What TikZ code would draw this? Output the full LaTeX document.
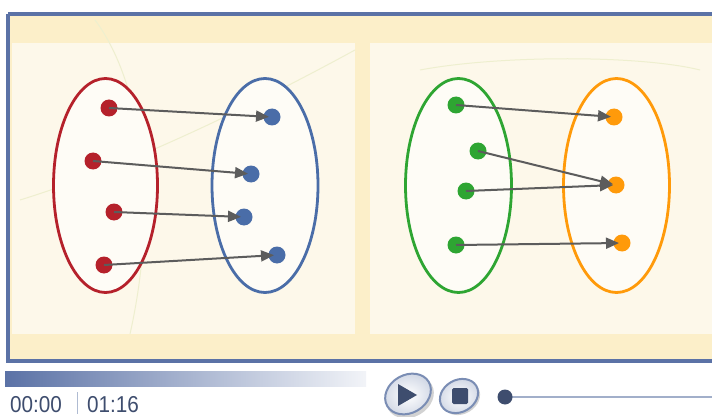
\documentclass[tikz,border=0pt]{standalone}
\usepackage{fontspec}
\setmainfont{Liberation Sans}
\usetikzlibrary{arrows.meta}
\definecolor{frameblue}{HTML}{5B72A6}
\definecolor{band}{HTML}{FCEFC9}
\definecolor{panel}{HTML}{FDF8EA}
\definecolor{setfill}{HTML}{FEFCF6}
\definecolor{cred}{HTML}{B5212B}
\definecolor{cblue}{HTML}{4A6DA8}
\definecolor{cgreen}{HTML}{2EA532}
\definecolor{corange}{HTML}{FF9A0A}
\definecolor{arrowgray}{HTML}{5C5C5C}
\definecolor{knob}{HTML}{3E4D6E}
\definecolor{faint}{HTML}{EEEFCF}
\definecolor{ringblue}{HTML}{7A8DB4}
\begin{document}
\begin{tikzpicture}[x=1pt,y=-1pt,
  dot/.style={circle,inner sep=0pt,minimum size=17pt,fill=#1},
  setring/.style={draw=#1,line width=2.8pt,fill=setfill},
  maparrow/.style={draw=arrowgray,line width=2pt,-{Triangle[length=13pt,width=11pt]},shorten >=3pt},
  timetext/.style={font=\fontsize{23}{23}\selectfont,text=knob,inner sep=0pt,anchor=base west,xscale=0.9},
  btnring/.style={draw=ringblue,line width=2pt,inner color=white,outer color=ringblue!35!white}
]
\useasboundingbox (0,0) rectangle (712,417);
\fill[white] (0,0) rectangle (712,417);
% frame and backgrounds
\fill[band] (8,14) rectangle (716,361);
\fill[panel] (12,43) rectangle (355,334);
\fill[panel] (370,43) rectangle (716,334);
\draw[faint,line width=1pt] (95,20) .. controls (140,80) and (160,200) .. (130,334);
\draw[faint,line width=1pt] (20,200) .. controls (150,160) and (300,80) .. (355,50);
\draw[faint,line width=1pt] (420,70) .. controls (500,55) and (640,55) .. (700,70);
\draw[frameblue,line width=3.4pt] (8,14) -- (716,14);
\draw[frameblue,line width=3.4pt] (8,14) -- (8,361) -- (716,361);
% left diagram
\draw[setring=cred] (105.5,185.5) ellipse [x radius=52, y radius=107];
\draw[setring=cblue] (265,185.5) ellipse [x radius=53, y radius=107];
\node[dot=cred] (r1) at (109,108) {};
\node[dot=cred] (r2) at (93,161) {};
\node[dot=cred] (r3) at (114,212) {};
\node[dot=cred] (r4) at (104,265) {};
\node[dot=cblue] (b1) at (272,117) {};
\node[dot=cblue] (b2) at (251,174) {};
\node[dot=cblue] (b3) at (244,217) {};
\node[dot=cblue] (b4) at (277,255) {};
\draw[maparrow] (r1.center) -- (b1.center);
\draw[maparrow] (r2.center) -- (b2.center);
\draw[maparrow] (r3.center) -- (b3.center);
\draw[maparrow] (r4.center) -- (b4.center);
% right diagram
\draw[setring=cgreen] (458.5,185.5) ellipse [x radius=53, y radius=107];
\draw[setring=corange] (616.5,185.5) ellipse [x radius=53, y radius=107];
\node[dot=cgreen] (g1) at (456,105) {};
\node[dot=cgreen] (g2) at (478,151) {};
\node[dot=cgreen] (g3) at (466,191) {};
\node[dot=cgreen] (g4) at (456,245) {};
\node[dot=corange] (o1) at (614,117) {};
\node[dot=corange] (o2) at (616,185) {};
\node[dot=corange] (o3) at (622,243) {};
\draw[maparrow] (g1.center) -- (o1.center);
\draw[maparrow] (g2.center) -- (o2.center);
\draw[maparrow] (g3.center) -- (o2.center);
\draw[maparrow] (g4.center) -- (o3.center);
% player controls
\shade[left color=frameblue,right color=frameblue!8!white] (5,371) rectangle (366,386);
\node[timetext] (t0) at (10,412) {00:00};
\node[timetext] (t1) at (87,412) {01:16};
\draw[ringblue!60!white,line width=1pt] (77,392) -- (77,414);
% play button
\fill[gray!35,rotate around={30:(410,397)}] (410,397) ellipse [x radius=25, y radius=20];
\draw[btnring,rotate around={30:(408,394)}] (408,394) ellipse [x radius=24, y radius=19];
\fill[knob] (398,384) -- (417,395) -- (398,406) -- cycle;
% stop button
\fill[gray!35,rotate around={30:(461,398)}] (461,398) ellipse [x radius=20, y radius=16];
\draw[btnring,rotate around={30:(459,396)}] (459,396) ellipse [x radius=20, y radius=16];
\fill[knob,rounded corners=1.5pt] (452,388) rectangle (468,404);
% slider
\draw[ringblue!70!white,line width=2.5pt] (505,397) -- (712,397);
\node[circle,fill=knob,inner sep=0pt,minimum size=15pt] (k) at (505,397) {};
\end{tikzpicture}
\end{document}
